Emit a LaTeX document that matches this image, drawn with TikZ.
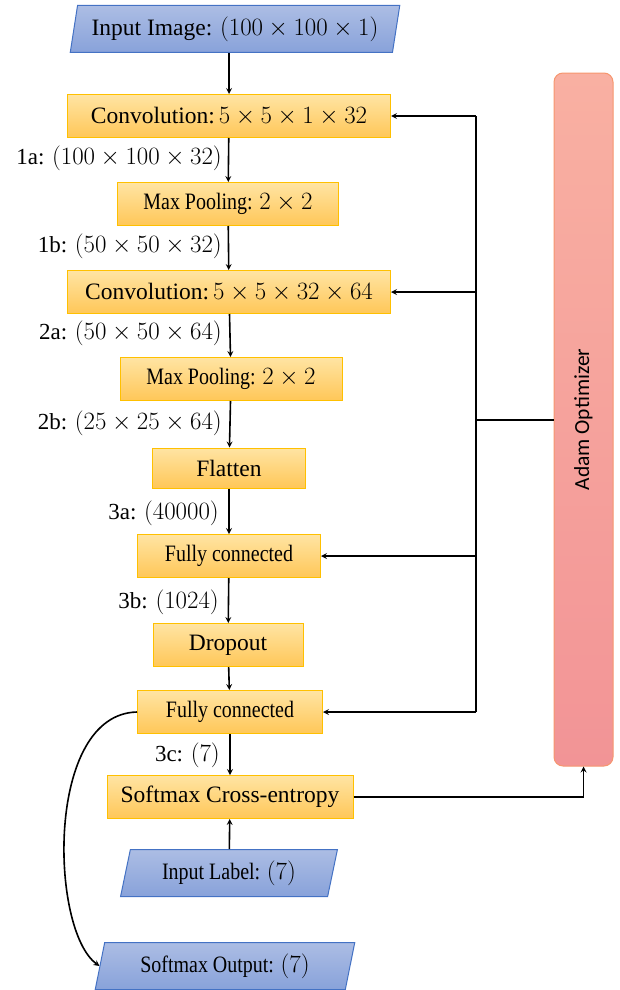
\documentclass[tikz,border=0pt]{standalone}
\usepackage{fontspec}
\setmainfont{Liberation Serif}
\newfontfamily\narrowfont[FakeStretch=0.85]{Liberation Serif}
\newfontfamily\adamfont{Carlito}
\usetikzlibrary{arrows,shapes.geometric}

\definecolor{layerborder}{RGB}{255,192,0}
\definecolor{layertop}{RGB}{255,228,163}
\definecolor{layerbot}{RGB}{255,199,88}
\definecolor{ioborder}{RGB}{68,114,196}
\definecolor{iotop}{RGB}{172,189,228}
\definecolor{iobot}{RGB}{136,162,218}
\definecolor{adamborder}{RGB}{246,150,110}
\definecolor{adamtop}{RGB}{249,176,162}
\definecolor{adambot}{RGB}{242,148,150}

\begin{document}
\begin{tikzpicture}[x=1pt,y=-1pt]
	\useasboundingbox (0,0) rectangle (620,990);

	\tikzset{layer/.style = {draw=layerborder, line width=1pt, top color=layertop, bottom color=layerbot,
			minimum height=43pt, inner sep=0pt, font=\fontsize{23.5}{26}\selectfont}}
	\tikzset{io/.style = {trapezium, trapezium stretches=true, trapezium left angle=75, trapezium right angle=105,
			draw=ioborder, line width=1pt, top color=iotop, bottom color=iobot,
			minimum height=47pt, inner sep=0pt, font=\fontsize{23.5}{26}\selectfont}}
	\tikzset{narrow/.style = {font=\narrowfont\fontsize{23.5}{26}\selectfont}}
	\tikzset{dim/.style = {anchor=east, inner sep=0pt, font=\fontsize{23}{26}\selectfont}}
	\tikzset{edge/.style = {draw, line width=1.6pt, -stealth}}

	\node[io, minimum width=330pt] (img) at (235,29) {Input Image: $(100\times100\times1)$};
	\node[layer, minimum width=323pt] (conv1) at (229,116) {Convolution:\,$5\times5\times1\times32$};
	\node[layer, narrow, minimum width=221pt] (pool1) at (228,204) {Max Pooling: $2\times2$};
	\node[layer, minimum width=323pt] (conv2) at (229,292) {Convolution:\,$5\times5\times32\times64$};
	\node[layer, narrow, minimum width=222pt] (pool2) at (231,379) {Max Pooling: $2\times2$};
	\node[layer, minimum width=153pt, minimum height=40pt] (flat) at (229,468) {Flatten};
	\node[layer, narrow, minimum width=183pt] (fc1) at (229,556) {Fully connected};
	\node[layer, minimum width=150pt] (drop) at (228,645) {Dropout};
	\node[layer, narrow, minimum width=185pt] (fc2) at (230,712) {Fully connected};
	\node[layer, minimum width=246pt] (sce) at (230,797) {Softmax Cross-entropy};
	\node[io, narrow, minimum width=217pt] (lbl) at (229,873) {Input Label: $(7)$};
	\node[io, narrow, minimum width=260pt] (out) at (225,966) {Softmax Output: $(7)$};

	\node[draw=adamborder, line width=1pt, rounded corners=9pt, top color=adamtop, bottom color=adambot,
		minimum width=59pt, minimum height=693pt, inner sep=0pt] (adam) at (583.5,419.5)
		{\rotatebox{90}{\adamfont\fontsize{21.5}{24}\selectfont Adam Optimizer}};

	% tensor sizes
	\node[dim] (d1a) at (222,158) {1a: $(100\times100\times32)$};
	\node[dim] (d1b) at (222,246) {1b: $(50\times50\times32)$};
	\node[dim] (d2a) at (222,333) {2a: $(50\times50\times64)$};
	\node[dim] (d2b) at (222,423) {2b: $(25\times25\times64)$};
	\node[dim] (d3a) at (219,513) {3a: $(40000)$};
	\node[dim] (d3b) at (219,602) {3b: $(1024)$};
	\node[dim] (d3c) at (220,755) {3c: $(7)$};

	\draw[edge] (img.south -| conv1.north) -- (conv1);
	\draw[edge] (conv1) -- (pool1);
	\draw[edge] (pool1) -- (conv2);
	\draw[edge] (conv2) -- (pool2);
	\draw[edge] (pool2) -- (flat);
	\draw[edge] (flat) -- (fc1);
	\draw[edge] (fc1) -- (drop);
	\draw[edge] (drop) -- (fc2);
	\draw[edge] (fc2) -- (sce);
	\draw[edge] (lbl) -- (sce);
	\draw[edge] (fc2.west) .. controls (45,714) and (50,930) .. (out.west);

	% optimizer feedback
	\coordinate (bus) at (476,420);
	\draw[edge, -] (adam.west |- bus) -- (bus);
	\draw[edge, -] (bus |- conv1) -- (bus |- fc2);
	\draw[edge] (bus |- conv1) -- (conv1);
	\draw[edge] (bus |- conv2) -- (conv2);
	\draw[edge] (bus |- fc1) -- (fc1);
	\draw[edge] (bus |- fc2) -- (fc2);
	\draw[edge] (sce) -| (adam);
\end{tikzpicture}
\end{document}
